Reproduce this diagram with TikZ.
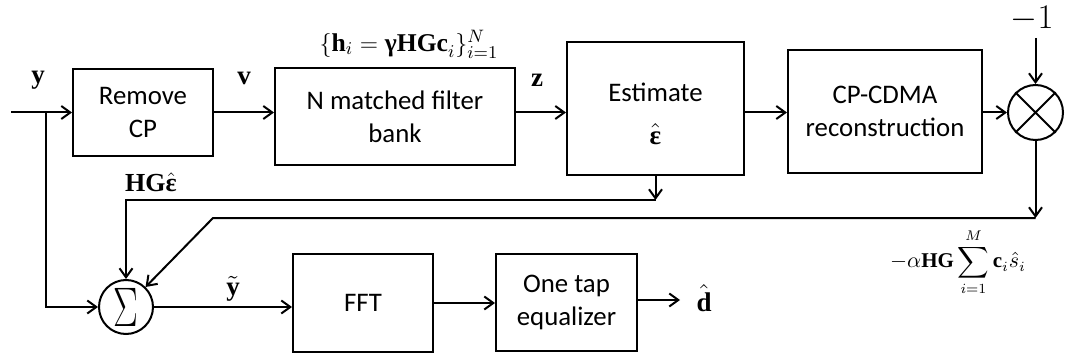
\documentclass[tikz,border=0pt]{standalone}
\usepackage{amsmath}
\usepackage[no-math]{fontspec}
\setmainfont{Carlito}
\newfontfamily\tms{Liberation Serif}
\usetikzlibrary{arrows.meta}

\newcommand\boxfont{\fontsize{13.4}{16.5}\selectfont}
\newcommand\lblfont{\fontsize{13.5}{13.5}\selectfont}
% bold upright serif symbol inside math
\newcommand\tb[1]{\text{\tms\bfseries #1}}

\begin{document}
\begin{tikzpicture}[x=0.5pt,y=-0.5pt,
  blk/.style={draw,line width=1pt,align=center,inner sep=0pt,font=\boxfont},
  junc/.style={draw,circle,line width=1pt,inner sep=0pt},
  lbl/.style={inner sep=0pt,font=\lblfont},
  wire/.style={line width=1pt,-{Straight Barb[length=4.5pt,width=6.5pt]}},
  plain/.style={line width=1pt}]
\useasboundingbox (0,0) rectangle (1065,358);

% processing blocks
\node[blk,minimum width=70pt,minimum height=43.5pt] (rm) at (143,112.5) {Remove\\CP};
\node[blk,minimum width=120pt,minimum height=48.5pt] (mf) at (395,116.5) {N matched filter\\bank};
\node[blk,minimum width=88.5pt,minimum height=66.5pt] (est) at (655.5,108.5) {};
\node[inner sep=0pt,font=\boxfont] (estt) at (655.5,92) {Estimate};
\node[inner sep=0pt,font=\lblfont] (este) at (655.5,134) {$\hat{\tb{ε}}$};
\node[blk,minimum width=97pt,minimum height=61.5pt] (cp) at (885,111.5) {CP-CDMA\\reconstruction};
\node[blk,minimum width=70pt,minimum height=49pt] (fft) at (363,303) {FFT};
\node[blk,minimum width=70.5pt,minimum height=48.5pt] (eq) at (566.5,302.5) {One tap\\equalizer};

% adder and multiplier
\node[junc,minimum size=27pt] (sum) at (126,307)
  {\scalebox{0.745}[1.12]{\fontsize{26}{26}\selectfont$\Sigma$}};
\node[junc,minimum size=27.5pt] (mul) at (1035.5,112.5) {};
\draw[plain] (mul.45) -- (mul.225) (mul.135) -- (mul.315);

% signal labels
\node[lbl] (ly) at (38,80) {$\tb{y}$};
\node[lbl] (lv) at (244,78) {$\tb{v}$};
\node[lbl] (lz) at (537,80) {$\tb{z}$};
\node[lbl,font=\fontsize{12.8}{12.8}\selectfont] (lh) at (409,44)
  {$\{\tb{h}_i=\tb{γHGc}_i\}_{i=1}^{N}$};
\node[lbl,font=\fontsize{16}{16}\selectfont] (mone) at (1032,19) {$-1$};
\node[lbl,font=\fontsize{13}{13}\selectfont] (lhg) at (151,182) {$\tb{HG}\hat{\tb{ε}}$};
\node[lbl,font=\fontsize{10.5}{10.5}\selectfont] (lsum) at (958,262)
  {$\displaystyle-\alpha\tb{HG}\sum_{i=1}^{M}\tb{c}_i\hat{s}_i$};
\node[lbl] (lyt) at (233,289) {$\tilde{\tb{y}}$};
\node[lbl] (ld) at (704,298) {$\hat{\tb{d}}$};

% connector points
\coordinate (in) at (11,112.5);
\coordinate (br) at (46,112.5);
\coordinate (e1) at (655.5,200);
\coordinate (e2) at (126,200);
\coordinate (r1) at (1035.5,218);
\coordinate (r2) at (213,218);
\coordinate (out) at (680,300);

% forward path
\draw[wire] (in) -- (rm.west);
\draw[wire] (rm.east) -- (rm.east -| mf.west);
\draw[wire] (mf.east |- rm.east) -- (est.west |- rm.east);
\draw[wire] (est.east |- rm.east) -- (cp.west |- rm.east);
\draw[wire] (cp.east |- mul.west) -- (mul.west);
\draw[wire] ([yshift=-3pt]mone.south -| mul.north) -- (mul.north);

% feedback into the adder
\draw[wire] (est.south) -- (e1);
\draw[wire] (e1) -- (e2) -- (sum.north);
\draw[wire] (mul.south) -- (r1);
\draw[wire] (r1) -- (r2) -- (sum);
\draw[wire] (br) |- (sum.west);

% equalisation path
\draw[wire] (eq.east |- out) -- (out);
\draw[wire] (sum.east) -- (sum.east -| fft.west);
\draw[wire] (fft.east) -- (fft.east -| eq.west);
\end{tikzpicture}
\end{document}
